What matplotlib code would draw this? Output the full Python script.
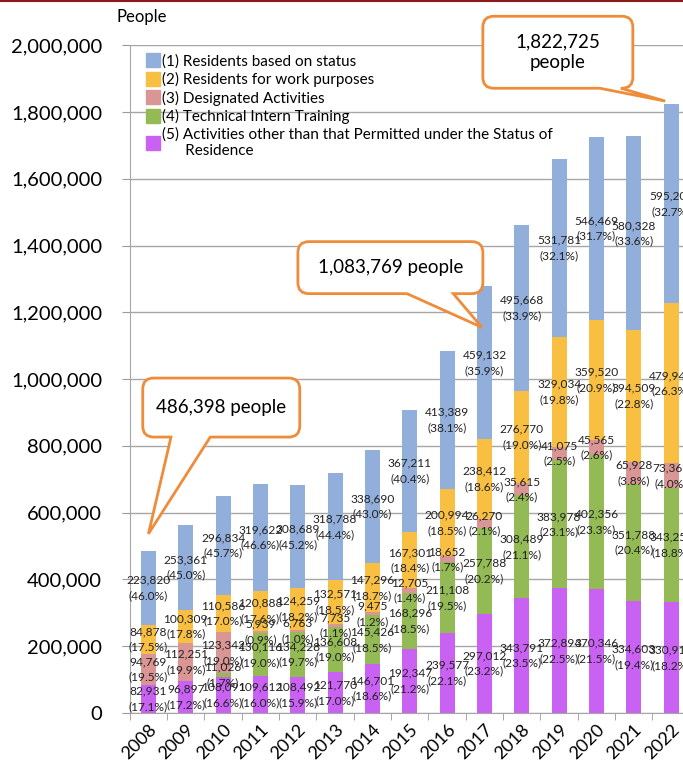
import matplotlib
matplotlib.use("Agg")
import matplotlib.pyplot as plt
import numpy as np
from matplotlib.lines import Line2D
from matplotlib.path import Path
from matplotlib.patches import PathPatch
from matplotlib.transforms import IdentityTransform
from matplotlib.ticker import FuncFormatter

plt.rcParams["font.family"] = ["Lato", "DejaVu Sans"]

# Foreign residents by category, 2008-2022
years = ["2008", "2009", "2010", "2011", "2012", "2013", "2014", "2015",
         "2016", "2017", "2018", "2019", "2020", "2021", "2022"]
status_based = [223820, 253361, 296834, 319622, 308689, 318788, 338690, 367211,
                413389, 459132, 495668, 531781, 546469, 580328, 595207]
work_purposes = [84878, 100309, 110586, 120888, 124259, 132571, 147296, 167301,
                 200994, 238412, 276770, 329034, 359520, 394509, 479949]
designated = [94769, 112251, 123342, 5939, 6763, 7735, 9475, 12705,
              18652, 26270, 35615, 41075, 45565, 65928, 73363]
intern_training = [0, 0, 11026, 130116, 134228, 136608, 145426, 168296,
                   211108, 257788, 308489, 383978, 402356, 351788, 343254]
other_activities = [82931, 96897, 108091, 109612, 108492, 121770, 146701, 192347,
                    239577, 297012, 343791, 372894, 370346, 334603, 330910]

series_labels = [
    "(1) Residents based on status",
    "(2) Residents for work purposes",
    "(3) Designated Activities",
    "(4) Technical Intern Training",
    "(5) Activities other than that Permitted under the Status of\n      Residence",
]
colors = ["#92AEDA", "#F9BF42", "#D99694", "#93BA55", "#C962F2"]

callout_texts = ["486,398 people", "1,083,769 people", "1,822,725\npeople"]
orange = "#EE8C3A"

# bottom-to-top stacking order
stack = [other_activities, intern_training, designated, work_purposes, status_based]
stack_colors = colors[::-1]

fig = plt.figure(figsize=(6.83, 7.80), dpi=100)
ax = fig.add_axes([0.19, 0.086, 0.82, 0.856])

x = np.arange(len(years))
totals = np.sum(np.array(stack), axis=0)
bottom = np.zeros(len(years))
for vals, col in zip(stack, stack_colors):
    vals = np.array(vals)
    ax.bar(x, vals, width=0.4, bottom=bottom, color=col, zorder=2)
    for i, v in enumerate(vals):
        if v == 0:
            continue
        pct = v / totals[i] * 100
        ax.text(x[i], bottom[i] + v / 2, f"{v:,}\n({pct:.1f}%)", ha="center",
                va="center", fontsize=8.6, color="#222222", linespacing=1.5,
                zorder=4)
    bottom += vals

ax.set_xlim(-0.5, len(years) - 0.5)
ax.set_ylim(0, 2000000)
ax.set_yticks(np.arange(0, 2000001, 200000))
ax.yaxis.set_major_formatter(FuncFormatter(lambda v, p: f"{int(v):,}"))
ax.tick_params(axis="y", labelsize=14.5, length=6, color="#9A9A9A", pad=14)
ax.grid(axis="y", color="#A6A6A6", lw=1, zorder=0)
ax.set_axisbelow(True)

ax.set_xticks(x)
ax.set_xticklabels(years, rotation=45, ha="right", rotation_mode="anchor")
ax.set_xticks(np.arange(-0.5, len(years)), minor=True)
ax.tick_params(axis="x", which="major", length=0, labelsize=13, pad=6)
ax.tick_params(axis="x", which="minor", length=5, color="#9A9A9A")

for s in ["top", "right"]:
    ax.spines[s].set_visible(False)
for s in ["left", "bottom"]:
    ax.spines[s].set_color("#A6A6A6")

ax.text(-0.023, 1.042, "People", transform=ax.transAxes, fontsize=12,
        ha="left", va="center")

handles = [Line2D([], [], marker="s", ls="", markersize=10, color=c) for c in colors]
ax.legend(handles, series_labels, loc="upper left", bbox_to_anchor=(0.012, 1.0),
          frameon=False, fontsize=11, handletextpad=0.05, labelspacing=0.22,
          handlelength=1.0, borderaxespad=0.2)


def bubble(center, size, base, tip, r=11):
    """Rounded box (pixel size) with a pointer leaving its bottom edge."""
    cx, cy = ax.transData.transform(center)
    tx, ty = ax.transData.transform(tip)
    w, h = size
    x0, x1, y0, y1 = cx - w / 2, cx + w / 2, cy - h / 2, cy + h / 2
    ba, bb = x0 + base[0] * w, x0 + base[1] * w
    M, L, C, Z = Path.MOVETO, Path.LINETO, Path.CURVE3, Path.CLOSEPOLY
    verts = [(x0 + r, y0), (ba, y0), (tx, ty), (bb, y0), (x1 - r, y0),
             (x1, y0), (x1, y0 + r), (x1, y1 - r), (x1, y1), (x1 - r, y1),
             (x0 + r, y1), (x0, y1), (x0, y1 - r), (x0, y0 + r), (x0, y0),
             (x0 + r, y0), (x0 + r, y0)]
    codes = [M, L, L, L, L, C, C, L, C, C, L, C, C, L, C, C, Z]
    fig.add_artist(PathPatch(Path(verts, codes), fc="white", ec=orange, lw=2,
                             transform=IdentityTransform(), zorder=6))
    return cx / fig.bbox.width, cy / fig.bbox.height


# callouts: (text, box centre, box size px, pointer base as box-width fractions, tip)
callouts = [
    (callout_texts[0], (1.95, 914700), (157, 59), (0.18, 0.43), (0.0, totals[0] + 50000)),
    (callout_texts[1], (6.48, 1333800), (185, 52), (0.59, 0.84), (8.93, 1155000)),
    (callout_texts[2], (10.965, 1979000), (150, 72), (0.78, 0.92), (13.84, totals[14] + 10000)),
]
for txt, center, size, base, tip in callouts:
    fx, fy = bubble(center, size, base, tip)
    fig.text(fx, fy, txt, ha="center", va="center", fontsize=13.5,
             linespacing=1.3, zorder=8)

fig.add_artist(Line2D([0, 1], [0.999, 0.999], color="#8B1A1A", lw=1.5))

fig.savefig("out.png", dpi=100)
